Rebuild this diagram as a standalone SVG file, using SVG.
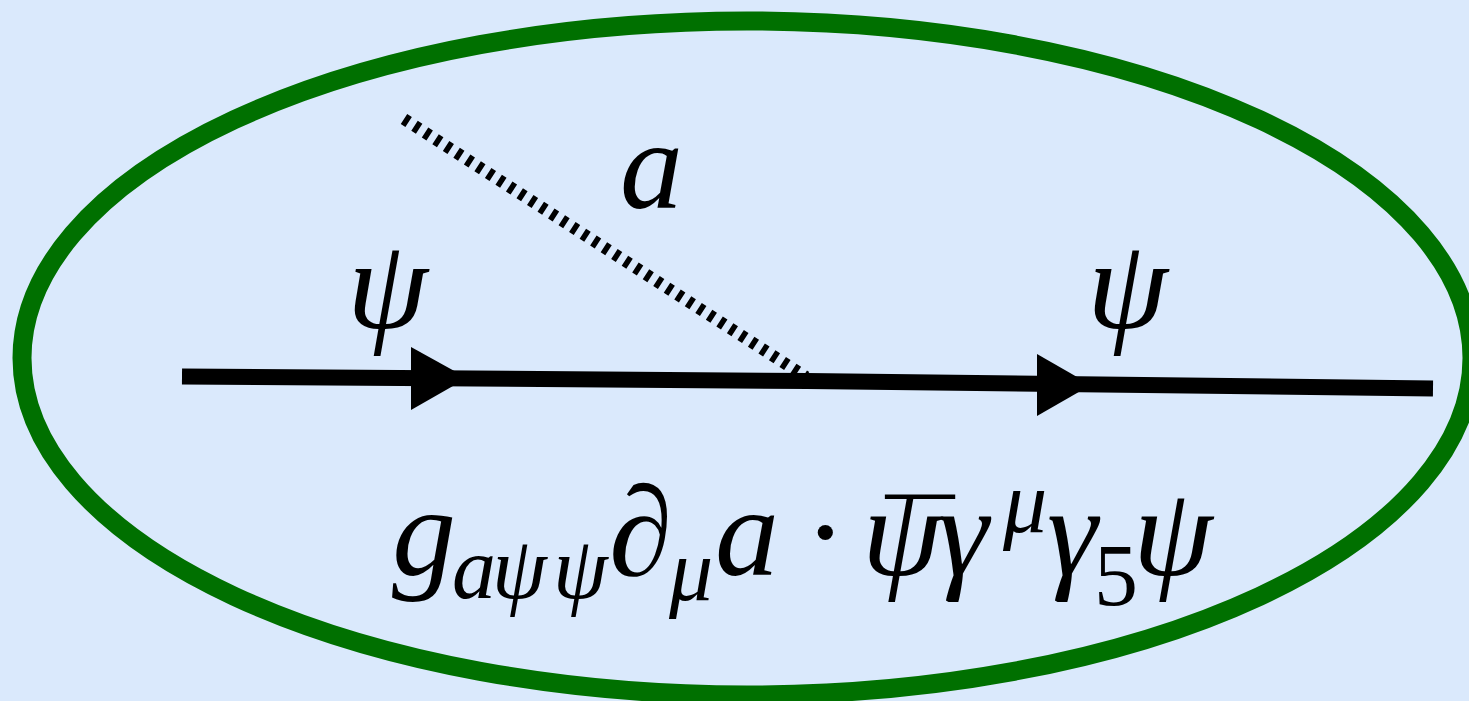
<svg xmlns="http://www.w3.org/2000/svg" width="1469" height="701" viewBox="0 0 1469 701">
<defs>
<style>
.t{font-family:"Liberation Serif","Times New Roman",serif;font-style:italic;fill:#000}
.u{font-style:normal}
.s{font-size:88px}
.f{stroke:#000;stroke-width:16;fill:none}
.ah{fill:#000}
</style>
</defs>
<rect width="1469" height="701" fill="#dae9fc"/>
<g id="ellipse"><ellipse cx="747" cy="358" rx="725" ry="337" fill="#dae9fc" stroke="#007000" stroke-width="19"/></g>
<g id="connectors">
<line class="f" x1="182" y1="376.5" x2="808" y2="381"/>
<line class="f" x1="807" y1="381" x2="1433" y2="388.5"/>
<polygon class="ah" points="411,347 467,378 411,410"/>
<polygon class="ah" points="1037,354 1091,385 1037,416"/>
<line x1="404" y1="119" x2="806" y2="377" stroke="#000" stroke-width="12" stroke-dasharray="5.5 7"/>
</g>
<g id="label-a"><text class="t" x="620" y="208" font-size="126">a</text></g>
<g id="label-psi-in"><text class="t" x="347" y="328" font-size="130">ψ</text></g>
<g id="label-psi-out"><text class="t" x="1087" y="328" font-size="130">ψ</text></g>
<g id="formula">
<text class="t" font-size="128"><tspan x="392" y="575">g</tspan><tspan class="s" x="452" y="598">a</tspan><tspan class="s" x="492" y="598">ψ</tspan><tspan class="s" x="553" y="598">ψ</tspan><tspan x="609" y="575">∂</tspan><tspan class="s" x="669" y="600">μ</tspan><tspan x="715" y="575">a</tspan><tspan class="u" x="804" y="575">·</tspan><tspan x="862" y="575">ψ</tspan><tspan x="938" y="575">γ</tspan><tspan class="s" x="1003" y="532">μ</tspan><tspan x="1047" y="575">γ</tspan><tspan class="s u" x="1094" y="605">5</tspan><tspan x="1133" y="575">ψ</tspan></text>
<text class="t u" font-size="100" x="886" y="570" textLength="68" lengthAdjust="spacingAndGlyphs">¯</text>
</g>
</svg>
